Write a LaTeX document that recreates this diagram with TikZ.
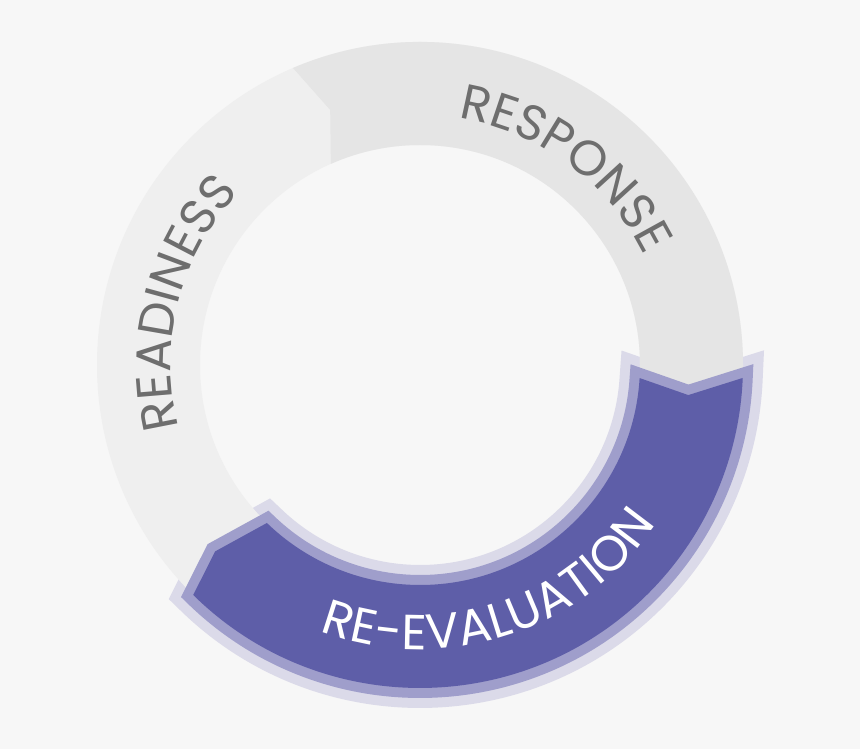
\documentclass[tikz,border=0pt]{standalone}
\usepackage{fontspec}
\setmainfont{Poppins}
\usetikzlibrary{decorations.text}
\definecolor{bgc}{HTML}{F7F7F7}
\definecolor{readyc}{HTML}{EFEFEF}
\definecolor{respc}{HTML}{E5E5E5}
\definecolor{pdark}{HTML}{5E5EA8}
\definecolor{pmid}{HTML}{9F9ECB}
\definecolor{plight}{HTML}{DBDAE9}
\definecolor{txtgray}{HTML}{6E6E6E}
\newcommand\arcfont{\fontsize{37}{37}\selectfont}
\tikzset{
  halo/.style={draw=plight, fill=plight, line width=30pt, line join=miter},
  midband/.style={draw=pmid, line width=15pt, line join=miter},
  darkfill/.style={fill=pdark},
  arclabel/.style={decorate, decoration={text along path, text align={fit to path}}}
}
\begin{document}
\begin{tikzpicture}[x=0.75pt,y=0.75pt]
\useasboundingbox (0,0) rectangle (860,749);
\fill[bgc] (0,0) rectangle (860,749);
\begin{scope}[shift={(420,384)}]
% light halo under the ring
\path[halo] (-2.3:323) -- (-6.4:270) -- (-3.4:220)
  arc[start angle=-3.4, end angle=-134.1, radius=220]
  -- (-137.7:277) -- (-134.6:323)
  arc[start angle=-134.6, end angle=-2.3, radius=323] -- cycle;
% ring: readiness
\fill[readyc, even odd rule] (0,0) circle[radius=323] (0,0) circle[radius=220];
% response segment
\fill[respc] (113.15:323) arc[start angle=113.15, end angle=-2.3, radius=323]
  -- (-6.4:270) -- (-3.4:220)
  arc[start angle=-3.4, end angle=113.9, radius=220]
  -- (109.4:270.4) -- cycle;
% re-evaluation
\path[midband] (-2.3:323) -- (-6.4:270) -- (-3.4:220)
  arc[start angle=-3.4, end angle=-134.1, radius=220]
  -- (-137.7:277) -- (-134.6:323)
  arc[start angle=-134.6, end angle=-2.3, radius=323] -- cycle;
\path[darkfill] (-2.3:323) -- (-6.4:270) -- (-3.4:220)
  arc[start angle=-3.4, end angle=-134.1, radius=220]
  -- (-137.7:277) -- (-134.6:323)
  arc[start angle=-134.6, end angle=-2.3, radius=323] -- cycle;
% labels
\path[arclabel, decoration={text={|\arcfont\color{txtgray}|READINESS}}]
  (194.5:249.5) arc[start angle=194.5, end angle=137.5, radius=249.5];
\path[arclabel, decoration={text={|\arcfont\color{txtgray}|RESPONSE}}]
  (81.2:249.5) arc[start angle=81.2, end angle=26.6, radius=249.5];
\path[arclabel, decoration={text={|\arcfont\color{white}|RE-EVALUATION}}]
  (-110.7:284.5) arc[start angle=-110.7, end angle=-33.8, radius=284.5];
\end{scope}
\end{tikzpicture}
\end{document}
